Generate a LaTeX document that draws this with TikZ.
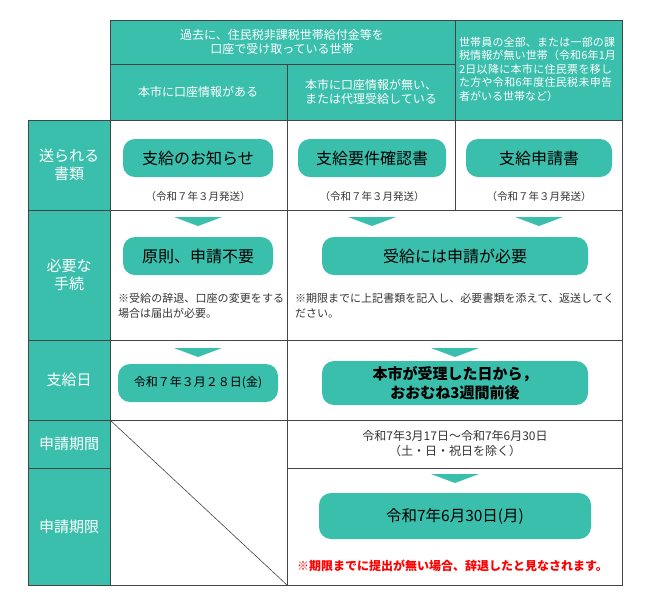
\documentclass[tikz,border=0pt]{standalone}
\usepackage{fontspec}
\newfontfamily\jp{Noto Sans CJK JP}
\XeTeXlinebreaklocale "ja"
\XeTeXlinebreakskip=0pt plus 1pt
\usetikzlibrary{positioning}
\definecolor{teal1}{HTML}{3BBFAD}
\definecolor{ln}{HTML}{444444}
\begin{document}
\begin{tikzpicture}[x=1pt,y=-1pt,font=\jp,
  cellt/.style={fill=teal1,draw=ln,line width=0.8pt},
  cellw/.style={draw=ln,line width=0.8pt},
  wt/.style={text=white,align=center,font=\jp\fontsize{12}{14.5}\selectfont},
  hd/.style={text=white,align=center,font=\jp\fontsize{15}{18}\selectfont},
  pill/.style={fill=teal1,rounded corners=12pt,minimum height=38pt,font=\jp\fontsize{16}{19}\selectfont,align=center},
  sm/.style={font=\jp\fontsize{10.5}{12}\selectfont,align=center,text=black!80},
  tri/.style={fill=teal1}]
\useasboundingbox (0,0) rectangle (650,606);
% header
\draw[cellt] (110,20) rectangle (455,64);
\draw[cellt] (110,64) rectangle (287,120);
\draw[cellt] (287,64) rectangle (455,120);
\draw[cellt] (455,20) rectangle (622,120);
\node[wt] (h1) at (282,42) {過去に、住民税非課税世帯給付金等を\\口座で受け取っている世帯};
\node[wt] (h2) at (198,92) {本市に口座情報がある};
\node[wt] (h3) at (371,92) {本市に口座情報が無い、\\または代理受給している};
\node[wt,align=left,text width=160pt,font=\jp\fontsize{11}{13.5}\selectfont] (h4) at (539,69) {世帯員の全部、または一部の課税情報が無い世帯（令和6年1月2日以降に本市に住民票を移した方や令和6年度住民税未申告者がいる世帯など）};
% row headers
\foreach \a/\b/\t/\n in {120/210/{送られる\\書類}/r1,210/340/{必要な\\手続}/r2,340/420/{支給日}/r3,420/468/{申請期間}/r4,468/585/{申請期限}/r5}{
  \draw[cellt] (28,\a) rectangle (110,\b);
  \node[hd] (\n) at (69,{(\a+\b)/2}) {\t};
}
% body cells
\draw[cellw] (110,120) rectangle (287,210);
\draw[cellw] (287,120) rectangle (455,210);
\draw[cellw] (455,120) rectangle (622,210);
\draw[cellw] (110,210) rectangle (287,340);
\draw[cellw] (287,210) rectangle (622,340);
\draw[cellw] (110,340) rectangle (287,420);
\draw[cellw] (287,340) rectangle (622,420);
\draw[cellw] (110,420) rectangle (287,585);
\draw[cellw] (287,420) rectangle (622,468);
\draw[cellw] (287,468) rectangle (622,585);
\draw[ln,line width=0.6pt] (110,420) -- (287,585);
% row 1
\node[pill,minimum width=150pt] (p1) at (198,158) {支給のお知らせ};
\node[pill,minimum width=148pt] (p2) at (372,158) {支給要件確認書};
\node[pill,minimum width=146pt] (p3) at (539,158) {支給申請書};
\foreach \x/\n in {198/s1,372/s2,539/s3}{\node[sm] (\n) at (\x,197) {（令和７年３月発送）};}
% triangles
\foreach \x/\y in {198/217,372/217,539/217,198/348,455/348,455/474}{
  \fill[tri] (\x-24,\y) -- (\x+24,\y) -- (\x,\y+9) -- cycle;}
% row 2
\node[pill,minimum width=150pt] (p4) at (198,256) {原則、申請不要};
\node[pill,minimum width=266pt] (p5) at (455,256) {受給には申請が必要};
\node[sm,align=left,text width=168pt,font=\jp\fontsize{11}{15}\selectfont] (n1) at (202,306) {※受給の辞退、口座の変更をする場合は届出が必要。};
\node[sm,align=left,text width=320pt,font=\jp\fontsize{11}{15}\selectfont] (n2) at (455,306) {※期限までに上記書類を記入し、必要書類を添えて、返送してください。};
% row 3
\node[pill,minimum width=160pt,font=\jp\fontsize{12}{14}\selectfont] (p6) at (198,383) {令和７年３月２８日(金)};
\node[pill,minimum width=266pt,minimum height=44pt,font=\jp\bfseries\fontsize{15}{19}\selectfont] (p7) at (455,383) {本市が受理した日から，\\おおむね3週間前後};
% row 4
\node[sm,font=\jp\fontsize{12}{15}\selectfont] (d1) at (455,444) {令和7年3月17日～令和7年6月30日\\（土・日・祝日を除く）};
% row 5
\node[pill,minimum width=272pt,minimum height=46pt,font=\jp\fontsize{15.5}{18}\selectfont] (p8) at (455,516) {令和7年6月30日(月)};
\node[align=left,text width=320pt,text=red,font=\jp\bfseries\fontsize{12}{15}\selectfont] (w) at (457,566) {※期限までに提出が無い場合、辞退したと見なされます。};
\end{tikzpicture}
\end{document}
